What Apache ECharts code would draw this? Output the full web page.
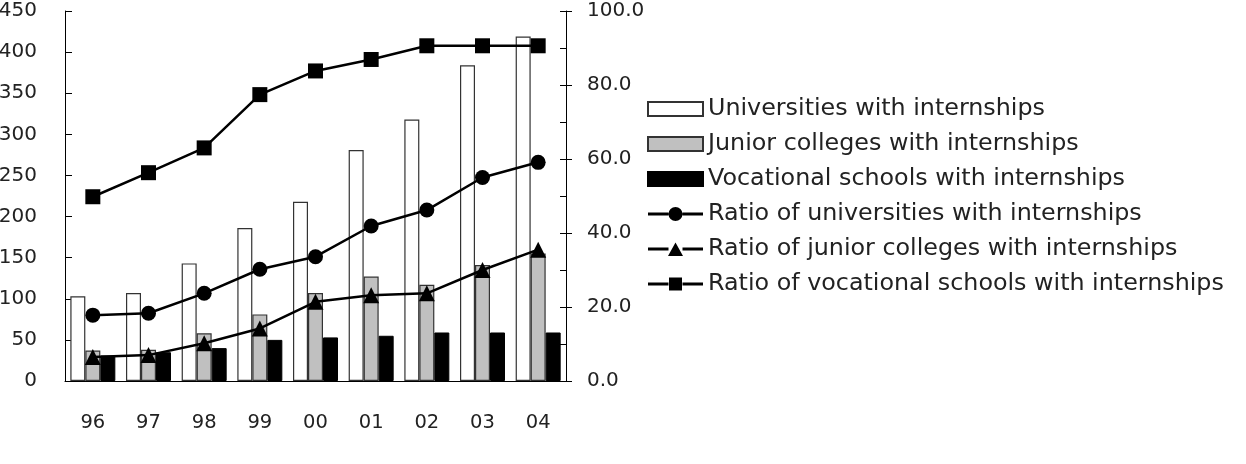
<!DOCTYPE html>
<html>
<head>
<meta charset="utf-8">
<script src="https://cdn.jsdelivr.net/npm/echarts@6/dist/echarts.min.js"></script>
<style>
  html, body { margin: 0; padding: 0; background: #fff; }
  #chart { width: 1246px; height: 464px; }
</style>
</head>
<body>
<div id="chart"></div>
<script>
const years = ['96', '97', '98', '99', '00', '01', '02', '03', '04']

// counts (left axis)
const uniCount = [103, 107, 143, 186, 218, 281, 318, 384, 419]
const juniorCount = [37, 38, 58, 81, 107, 127, 117, 141, 155]
const vocCount = [31, 35, 40, 50, 53, 55, 59, 59, 59]

// ratios in % (right axis)
const uniRatio = [17.8, 18.3, 23.7, 30.2, 33.6, 41.9, 46.2, 55.0, 59.1]
const juniorRatio = [6.5, 7.0, 10.2, 14.2, 21.4, 23.2, 23.7, 30.0, 35.5]
const vocRatio = [49.8, 56.3, 63.0, 77.4, 83.8, 86.9, 90.6, 90.6, 90.6]

const font = 'DejaVu Sans'
const ink = '#222'

// legend icons for the line series: line stub + marker, drawn in a 55x14 box
const stub = 'M0,5.5 L20.5,5.5 L20.5,8.5 L0,8.5 Z M34.5,5.5 L55,5.5 L55,8.5 L34.5,8.5 Z '
const circleIcon = 'path://' + stub + 'M20.5,7 A7,7 0 1,1 34.5,7 A7,7 0 1,1 20.5,7 Z'
const triangleIcon = 'path://' + stub + 'M27.5,0.5 L35,14 L20,14 Z M0,0 L0.01,0 L0.01,0.5 L0,0.5 Z'
const squareIcon = 'path://' + stub + 'M21,0.5 L34,0.5 L34,13.5 L21,13.5 Z M0,0 L0.01,0 L0.01,14 L0,14 Z'

const chart = echarts.init(document.getElementById('chart'))

const lineSeries = (name, data, symbol, size) => ({
  name,
  type: 'line',
  yAxisIndex: 1,
  data,
  symbol,
  symbolSize: size,
  z: 5,
  itemStyle: { color: '#000' },
  lineStyle: { color: '#000', width: 2.5 }
})

chart.setOption({
  animation: false,
  textStyle: { fontFamily: font },
  grid: { left: 65, right: 680, top: 11, bottom: 83, outerBoundsMode: 'none' },
  legend: {
    orient: 'vertical',
    left: 647,
    top: 97,
    padding: 0,
    itemWidth: 55,
    itemHeight: 14,
    itemGap: 11,
    textStyle: { fontFamily: font, fontSize: 23.8, color: ink, lineHeight: 24 },
    data: [
      { name: 'Universities with internships', icon: 'rect' },
      { name: 'Junior colleges with internships', icon: 'rect' },
      { name: 'Vocational schools with internships', icon: 'rect' },
      { name: 'Ratio of universities with internships', icon: circleIcon, itemStyle: { color: '#000', borderWidth: 0 } },
      { name: 'Ratio of junior colleges with internships', icon: triangleIcon, itemStyle: { color: '#000', borderWidth: 0 } },
      { name: 'Ratio of vocational schools with internships', icon: squareIcon, itemStyle: { color: '#000', borderWidth: 0 } }
    ]
  },
  xAxis: {
    type: 'category',
    data: years,
    axisLine: { lineStyle: { color: '#000', width: 1 } },
    axisTick: { inside: true, length: 5, lineStyle: { color: '#000' } },
    axisLabel: { margin: 32, fontSize: 19.5, color: ink, fontFamily: font }
  },
  yAxis: [
    {
      type: 'value',
      min: 0,
      max: 450,
      interval: 50,
      axisLine: { show: true, lineStyle: { color: '#000' } },
      axisTick: { show: true, inside: true, length: 7, lineStyle: { color: '#000' } },
      splitLine: { show: false },
      axisLabel: { margin: 28, fontSize: 20, color: ink, fontFamily: font }
    },
    {
      type: 'value',
      position: 'right',
      min: 0,
      max: 100,
      interval: 10,
      axisLine: { show: true, lineStyle: { color: '#000' } },
      axisTick: { show: true, inside: true, length: 6, lineStyle: { color: '#000' } },
      splitLine: { show: false },
      axisLabel: {
        margin: 21,
        fontSize: 20,
        color: ink,
        fontFamily: font,
        formatter: v => (v % 20 === 0 ? v.toFixed(1) : '')
      }
    },
    {
      // outer half of the major ticks on the right axis
      type: 'value',
      position: 'right',
      min: 0,
      max: 100,
      interval: 20,
      axisLine: { show: false },
      axisTick: { show: true, length: 6, lineStyle: { color: '#000' } },
      axisLabel: { show: false },
      splitLine: { show: false }
    }
  ],
  series: [
    {
      name: 'Universities with internships',
      type: 'bar',
      data: uniCount,
      barWidth: 15,
      barGap: '0%',
      itemStyle: { color: '#fff', borderColor: '#333', borderWidth: 1.2 }
    },
    {
      name: 'Junior colleges with internships',
      type: 'bar',
      data: juniorCount,
      barWidth: 15,
      barGap: '0%',
      itemStyle: { color: '#c0c0c0', borderColor: '#333', borderWidth: 1.2 }
    },
    {
      name: 'Vocational schools with internships',
      type: 'bar',
      data: vocCount,
      barWidth: 15,
      barGap: '0%',
      itemStyle: { color: '#000', borderColor: '#000', borderWidth: 1 }
    },
    lineSeries('Ratio of universities with internships', uniRatio, 'circle', 15),
    lineSeries('Ratio of junior colleges with internships', juniorRatio, 'triangle', 16),
    lineSeries('Ratio of vocational schools with internships', vocRatio, 'rect', 15)
  ]
})
</script>
</body>
</html>
